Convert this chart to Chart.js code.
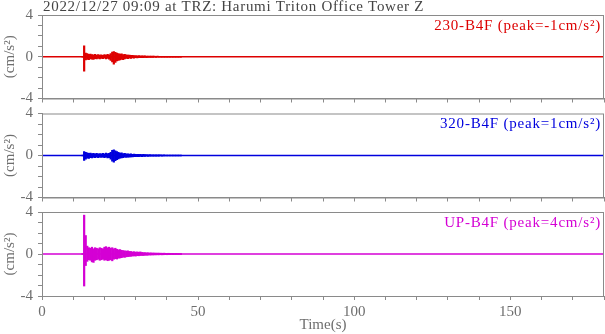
<!DOCTYPE html>
<html>
<head>
<meta charset="utf-8">
<script src="https://cdn.jsdelivr.net/npm/chart.js@4.4.1/dist/chart.umd.min.js"></script>
<style>
    html, body { margin: 0; padding: 0; background: #fff; }
    #wrap { position: relative; width: 605px; height: 334px; }
    .panel { position: absolute; left: 0; width: 605px; }
</style>
</head>
<body>
<div id="wrap">
    <div class="panel" style="top:0;height:105px"><canvas id="c230"></canvas></div>
    <div class="panel" style="top:105px;height:100px"><canvas id="c320"></canvas></div>
    <div class="panel" style="top:205px;height:129px"><canvas id="cUP"></canvas></div>
</div>
<script>
const title = '2022/12/27 09:09 at TRZ: Harumi Triton Office Tower Z';

// time axis of the shaking part (s), every 0.5 s
const times = [
    13, 13.5, 14, 14.5, 15, 15.5, 16, 16.5, 17, 17.5,
    18, 18.5, 19, 19.5, 20, 20.5, 21, 21.5, 22, 22.5,
    23, 23.5, 24, 24.5, 25, 25.5, 26, 26.5, 27, 27.5,
    28, 28.5, 29, 29.5, 30, 30.5, 31, 31.5, 32, 32.5,
    33, 33.5, 34, 34.5, 35, 35.5, 36, 36.5, 37, 37.5,
    38, 38.5, 39, 39.5, 40, 40.5, 41, 41.5, 42, 42.5,
    43, 43.5, 44, 44.5
];

// upper / lower envelope of each trace (cm/s2)
const hi230 = [
    0.04, 1.05, 0.35, 0.3, 0.22, 0.25, 0.2, 0.18, 0.22, 0.17,
    0.2, 0.15, 0.18, 0.14, 0.2, 0.16, 0.22, 0.18, 0.3, 0.45,
    0.5, 0.42, 0.35, 0.3, 0.25, 0.28, 0.2, 0.22, 0.18, 0.15,
    0.17, 0.13, 0.14, 0.11, 0.12, 0.1, 0.11, 0.09, 0.1, 0.08,
    0.08, 0.07, 0.07, 0.06, 0.07, 0.06, 0.06, 0.05, 0.06, 0.05,
    0.05, 0.05, 0.05, 0.04, 0.05, 0.04, 0.04, 0.04, 0.04, 0.04,
    0.04, 0.04, 0.04, 0.04
];
const lo230 = [
    -0.04, -1.38, -0.3, -0.25, -0.28, -0.2, -0.22, -0.25, -0.18, -0.2,
    -0.16, -0.2, -0.15, -0.18, -0.14, -0.2, -0.17, -0.22, -0.35, -0.5,
    -0.7, -0.55, -0.4, -0.35, -0.3, -0.25, -0.28, -0.2, -0.17, -0.19,
    -0.14, -0.15, -0.12, -0.13, -0.1, -0.11, -0.09, -0.1, -0.08, -0.09,
    -0.07, -0.08, -0.06, -0.07, -0.06, -0.06, -0.05, -0.06, -0.05, -0.05,
    -0.05, -0.04, -0.05, -0.04, -0.04, -0.04, -0.04, -0.04, -0.04, -0.04,
    -0.04, -0.04, -0.04, -0.04
];
const hi320 = [
    0.04, 0.38, 0.3, 0.25, 0.2, 0.22, 0.18, 0.2, 0.17, 0.2,
    0.16, 0.18, 0.15, 0.2, 0.17, 0.22, 0.18, 0.2, 0.3, 0.5,
    0.55, 0.45, 0.38, 0.3, 0.22, 0.25, 0.18, 0.2, 0.15, 0.17,
    0.14, 0.15, 0.12, 0.14, 0.11, 0.12, 0.1, 0.11, 0.09, 0.1,
    0.08, 0.09, 0.07, 0.08, 0.07, 0.07, 0.06, 0.07, 0.06, 0.06,
    0.06, 0.05, 0.06, 0.05, 0.05, 0.05, 0.05, 0.05, 0.04, 0.05,
    0.04, 0.04, 0.04, 0.04
];
const lo320 = [
    -0.04, -0.48, -0.35, -0.25, -0.28, -0.2, -0.22, -0.18, -0.2, -0.17,
    -0.2, -0.16, -0.18, -0.15, -0.2, -0.17, -0.22, -0.2, -0.35, -0.55,
    -0.64, -0.5, -0.4, -0.32, -0.25, -0.22, -0.2, -0.17, -0.18, -0.15,
    -0.16, -0.13, -0.14, -0.11, -0.12, -0.1, -0.11, -0.09, -0.1, -0.08,
    -0.09, -0.07, -0.08, -0.07, -0.07, -0.06, -0.07, -0.06, -0.06, -0.06,
    -0.05, -0.06, -0.05, -0.05, -0.05, -0.05, -0.04, -0.05, -0.04, -0.04,
    -0.04, -0.04, -0.04, -0.04
];
const hiUP = [
    0.04, 3.7, 1.76, 0.75, 0.6, 0.55, 0.65, 0.5, 0.6, 0.55,
    0.5, 0.6, 0.55, 0.5, 0.65, 0.7, 0.6, 0.65, 0.55, 0.6,
    0.5, 0.55, 0.45, 0.4, 0.42, 0.35, 0.33, 0.3, 0.28, 0.3,
    0.25, 0.24, 0.2, 0.22, 0.18, 0.2, 0.17, 0.2, 0.15, 0.14,
    0.13, 0.12, 0.12, 0.1, 0.11, 0.09, 0.1, 0.08, 0.09, 0.08,
    0.08, 0.07, 0.08, 0.07, 0.06, 0.07, 0.06, 0.06, 0.06, 0.05,
    0.06, 0.05, 0.05, 0.05
];
const loUP = [
    -0.04, -3.05, -1.1, -0.7, -0.55, -0.6, -0.75, -0.8, -0.6, -0.55,
    -0.5, -0.6, -0.55, -0.5, -0.6, -0.55, -0.64, -0.6, -0.55, -0.65,
    -0.5, -0.45, -0.48, -0.4, -0.38, -0.35, -0.3, -0.32, -0.27, -0.25,
    -0.24, -0.22, -0.2, -0.18, -0.2, -0.16, -0.17, -0.15, -0.14, -0.15,
    -0.12, -0.13, -0.11, -0.1, -0.1, -0.09, -0.09, -0.08, -0.08, -0.08,
    -0.07, -0.08, -0.07, -0.06, -0.07, -0.06, -0.06, -0.05, -0.06, -0.05,
    -0.05, -0.05, -0.05, -0.05
];

const timeRange = [0, 180];
const accRange = [-4, 4];
const xLabelTicks = [0, 50, 100, 150];
const yLabelTicks = [-4, 0, 4];

const axisColor = '#8a8a8a';
const textColor = '#6e6e6e';
const serif = '"Liberation Serif", "DejaVu Serif", serif';

const framePlugin = {
    id: 'frame',
    afterDraw(chart, args, opts) {
        const { ctx, chartArea: a } = chart;
        ctx.save();
        ctx.strokeStyle = axisColor;
        ctx.lineWidth = 1;
        ctx.strokeRect(a.left + 0.5, a.top + 0.5, a.right - a.left - 1, a.bottom - a.top);

        ctx.font = '15px ' + serif;
        ctx.fillStyle = opts.color;
        ctx.textAlign = 'right';
        ctx.textBaseline = 'alphabetic';
        ctx.letterSpacing = '0.8px';
        ctx.fillText(opts.label, a.right - 3, a.top + 14.5);

        if (opts.title) {
            ctx.fillStyle = '#444';
            ctx.textAlign = 'left';
            ctx.letterSpacing = '0.7px';
            ctx.fillText(opts.title, a.left + 1, 11);
        }
        ctx.restore();
    }
};

function makePanel(id, hi, lo, color, label, opt) {
    const bars = times.map((t, i) => ({ x: t, y: [lo[i], hi[i]] }));

    return new Chart(document.getElementById(id), {
        type: 'bar',
        plugins: [framePlugin],
        data: {
            datasets: [
                {
                    type: 'line',
                    data: [{ x: timeRange[0], y: 0 }, { x: timeRange[1], y: 0 }],
                    borderColor: color,
                    borderWidth: 1.6,
                    pointRadius: 0
                },
                {
                    data: bars,
                    backgroundColor: color,
                    borderWidth: 0,
                    barPercentage: 1,
                    categoryPercentage: 1
                }
            ]
        },
        options: {
            responsive: true,
            maintainAspectRatio: false,
            animation: false,
            layout: {
                padding: { top: opt.top, right: 1, left: 0, bottom: 0 }
            },
            plugins: {
                legend: { display: false },
                tooltip: { enabled: false },
                frame: { color: color, label: label, title: opt.title }
            },
            scales: {
                x: {
                    type: 'linear',
                    offset: false,
                    min: timeRange[0],
                    max: timeRange[1],
                    afterFit(s) {
                        s.height = opt.xh;
                        s.paddingLeft = 0;
                        s.paddingRight = 0;
                    },
                    grid: { drawOnChartArea: false, offset: false, tickLength: 4, color: axisColor },
                    border: { color: axisColor },
                    ticks: {
                        stepSize: 10,
                        autoSkip: false,
                        maxRotation: 0,
                        padding: 3,
                        color: textColor,
                        font: { family: serif, size: 15 },
                        callback: v => (opt.xLabels && xLabelTicks.includes(v)) ? v : ''
                    },
                    title: {
                        display: !!opt.xLabels,
                        text: 'Time(s)',
                        color: textColor,
                        font: { family: serif, size: 15 },
                        padding: { top: 0, bottom: 0 }
                    }
                },
                y: {
                    min: accRange[0],
                    max: accRange[1],
                    afterFit(s) {
                        s.width = 42;
                        s.paddingTop = 0;
                        s.paddingBottom = 0;
                    },
                    grid: { drawOnChartArea: false, tickLength: 4, color: axisColor },
                    border: { color: axisColor },
                    ticks: {
                        stepSize: 1,
                        autoSkip: false,
                        padding: 5,
                        color: textColor,
                        font: { family: serif, size: 15 },
                        callback: v => yLabelTicks.includes(v) ? v : ''
                    },
                    title: {
                        display: true,
                        text: '(cm/s²)',
                        color: textColor,
                        font: { family: serif, size: 15 },
                        padding: { top: 1, bottom: 0 }
                    }
                }
            }
        }
    });
}

makePanel('c230', hi230, lo230, '#dd0000', '230-B4F (peak=-1cm/s²)', { top: 15, xh: 6.5, title: title });
makePanel('c320', hi320, lo320, '#0000dd', '320-B4F (peak=1cm/s²)', { top: 8.5, xh: 7.5 });
makePanel('cUP', hiUP, loUP, '#d400d4', 'UP-B4F (peak=4cm/s²)', { top: 7, xh: 38, xLabels: true });
</script>
</body>
</html>
